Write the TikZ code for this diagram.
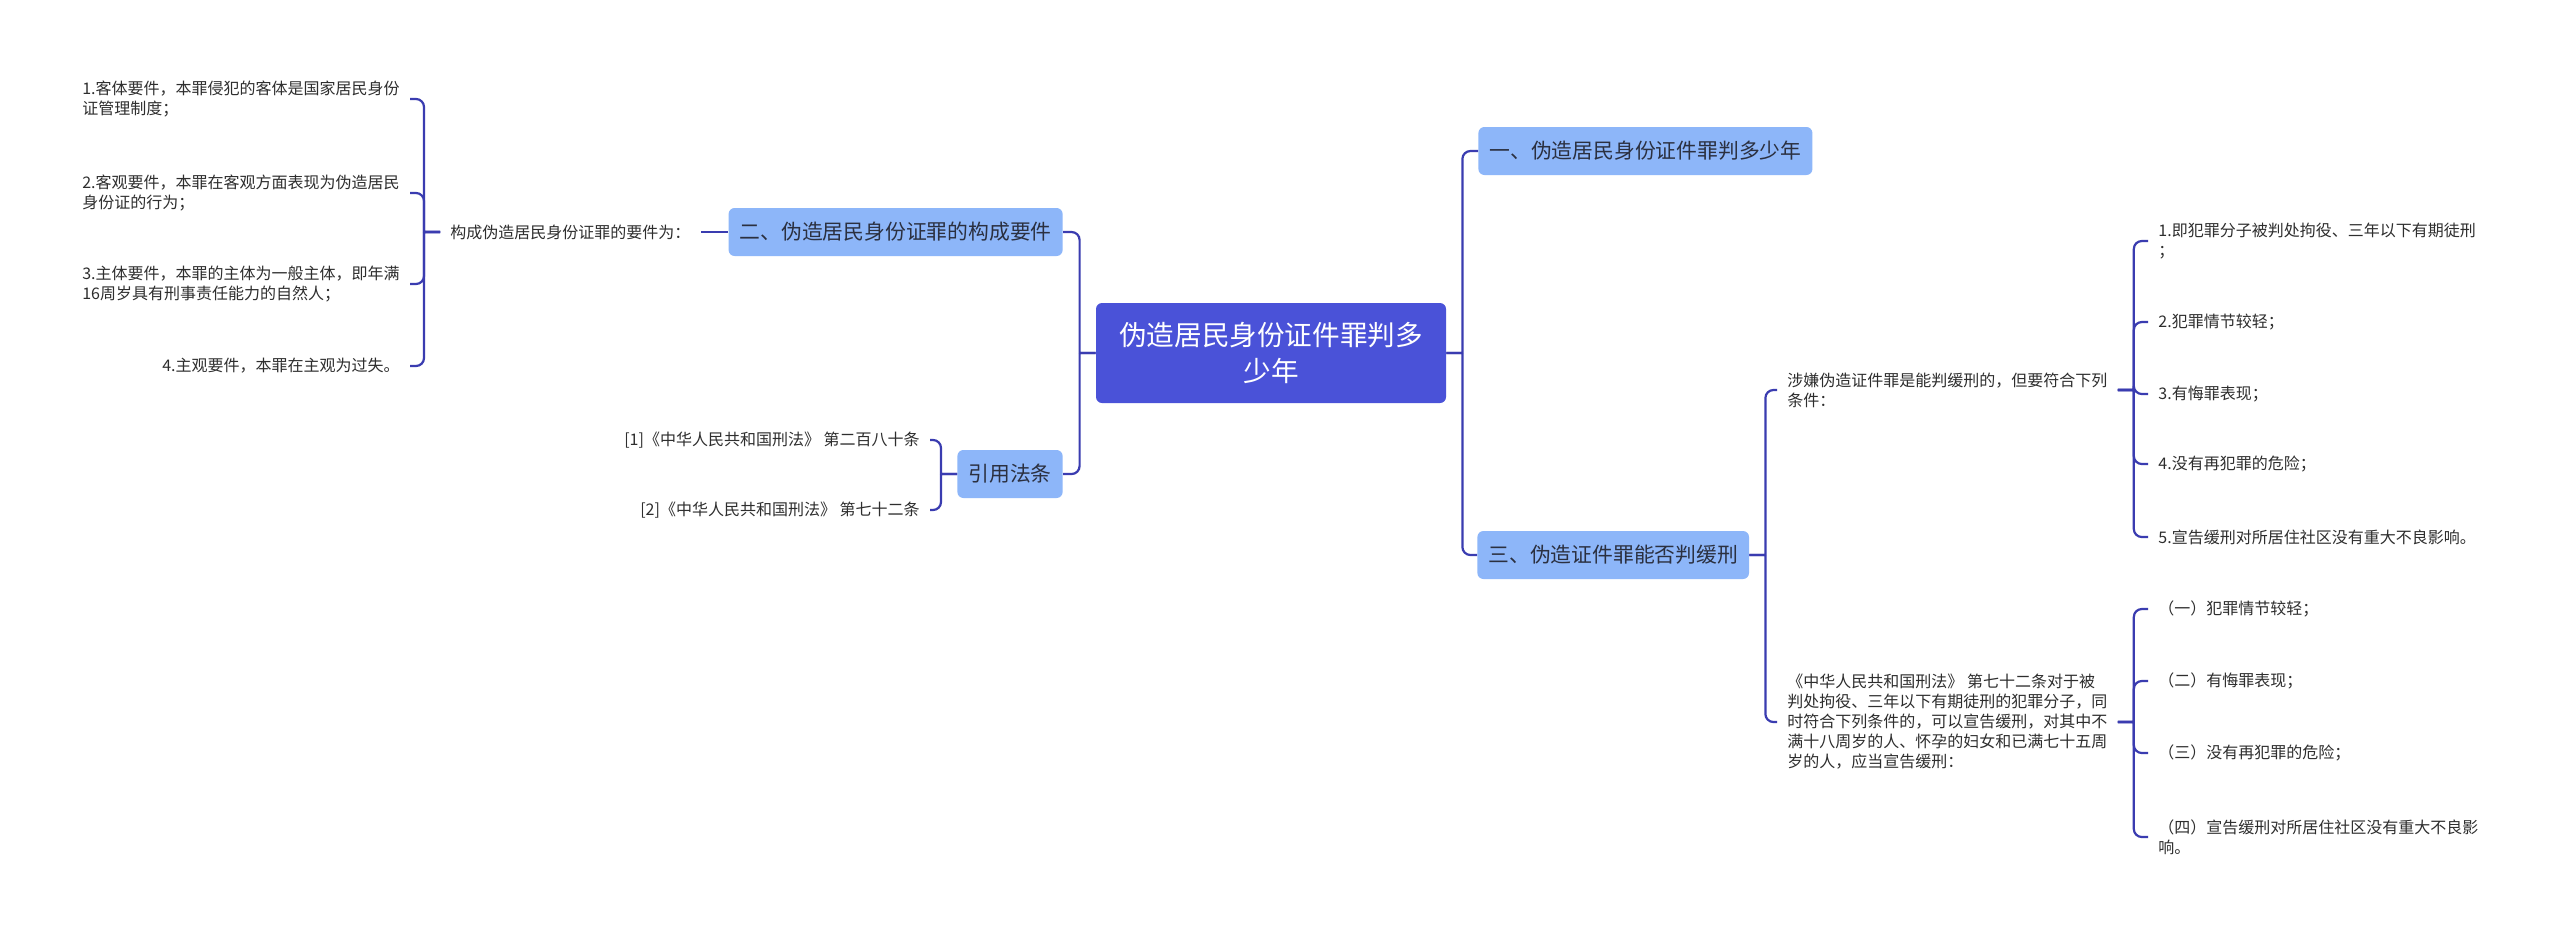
\documentclass[tikz,border=0pt]{standalone}
\usepackage{fontspec}
\setmainfont{Noto Sans CJK SC}
\definecolor{trait}{HTML}{3A3CB0}
\definecolor{racine}{HTML}{4A52D8}
\definecolor{branche}{HTML}{8DB6F9}
\definecolor{titretexte}{HTML}{2B3040}
\definecolor{texte}{HTML}{2E2E2E}

\begin{document}
\begin{tikzpicture}[x=0.5pt,y=-0.5pt,
	centre/.style={rounded corners=3pt,fill=racine,text=white,align=center,font=\fontsize{13.8}{18}\selectfont,minimum width=175pt,minimum height=50pt},
	titre/.style={rounded corners=3pt,fill=branche,text=titretexte,font=\fontsize{10.4}{12.5}\selectfont,inner xsep=5.5pt,minimum height=24pt},
	feuille/.style={text=texte,align=left,font=\fontsize{8}{10}\selectfont,inner xsep=5pt,inner ysep=2pt},
	lien/.style={draw=trait,line width=1.1pt},
	adroite/.style={lien,to path={-- ++(8pt,0pt) ++(0pt,0pt) [rounded corners=4pt] |- (\tikztotarget)}},
	agauche/.style={lien,to path={-- ++(-8pt,0pt) ++(0pt,0pt) [rounded corners=4pt] |- (\tikztotarget)}},
	]
		%cadre : coordonnees en pixels de l'image (2560 x 934)
		\fill[white] (0,0) rectangle (2560,934);
		\useasboundingbox (0,0) rectangle (2560,934);

		%\node (nom node) at(x,y) [style] {affichage} ;
		\node (node 0) at(1271,353) [centre] {伪造居民身份证件罪判多\\少年} ;
		\node (node 1) at(1478,151) [titre,anchor=west] {一、伪造居民身份证件罪判多少年} ;
		\node (node 2) at(1063,232) [titre,anchor=east] {二、伪造居民身份证罪的构成要件} ;
		\node (node 3) at(1063,474) [titre,anchor=east] {引用法条} ;
		\node (node 4) at(1477,555) [titre,anchor=west] {三、伪造证件罪能否判缓刑} ;

		%branche gauche
		\node (node 5) at(440,232) [feuille,anchor=west] {构成伪造居民身份证罪的要件为：} ;
		\node (node 6) at(410,99) [feuille,anchor=east] {1.客体要件，本罪侵犯的客体是国家居民身份\\证管理制度；} ;
		\node (node 7) at(410,193) [feuille,anchor=east] {2.客观要件，本罪在客观方面表现为伪造居民\\身份证的行为；} ;
		\node (node 8) at(410,284) [feuille,anchor=east] {3.主体要件，本罪的主体为一般主体，即年满\\16周岁具有刑事责任能力的自然人；} ;
		\node (node 9) at(410,366) [feuille,anchor=east] {4.主观要件，本罪在主观为过失。} ;
		\node (node 10) at(930,440) [feuille,anchor=east] {[1]《中华人民共和国刑法》 第二百八十条} ;
		\node (node 11) at(930,510) [feuille,anchor=east] {[2]《中华人民共和国刑法》 第七十二条} ;

		%branche droite
		\node (node 12) at(1777,390) [feuille,anchor=west] {涉嫌伪造证件罪是能判缓刑的，但要符合下列\\条件：} ;
		\node (node 13) at(1777,722) [feuille,anchor=west] {《中华人民共和国刑法》 第七十二条对于被\\判处拘役、三年以下有期徒刑的犯罪分子，同\\时符合下列条件的，可以宣告缓刑，对其中不\\满十八周岁的人、怀孕的妇女和已满七十五周\\岁的人，应当宣告缓刑：} ;
		\node (node 14) at(2148,241) [feuille,anchor=west] {1.即犯罪分子被判处拘役、三年以下有期徒刑\\；} ;
		\node (node 15) at(2148,322) [feuille,anchor=west] {2.犯罪情节较轻；} ;
		\node (node 16) at(2148,394) [feuille,anchor=west] {3.有悔罪表现；} ;
		\node (node 17) at(2148,464) [feuille,anchor=west] {4.没有再犯罪的危险；} ;
		\node (node 18) at(2148,537) [feuille,anchor=west] {5.宣告缓刑对所居住社区没有重大不良影响。} ;
		\node (node 19) at(2148,609) [feuille,anchor=west] {（一）犯罪情节较轻；} ;
		\node (node 20) at(2148,681) [feuille,anchor=west] {（二）有悔罪表现；} ;
		\node (node 21) at(2148,753) [feuille,anchor=west] {（三）没有再犯罪的危险；} ;
		\node (node 22) at(2148,837) [feuille,anchor=west] {（四）宣告缓刑对所居住社区没有重大不良影\\响。} ;

		%\path (node A.ancre) edge[adroite ou agauche] (node B.ancre);
		\path
		(node 0.east) edge[adroite] (node 1.west)
		(node 0.east) edge[adroite] (node 4.west)
		(node 0.west) edge[agauche] (node 2.east)
		(node 0.west) edge[agauche] (node 3.east)
		(node 2.west) edge[lien] (node 5.east)
		(node 5.west) edge[agauche] (node 6.east)
		(node 5.west) edge[agauche] (node 7.east)
		(node 5.west) edge[agauche] (node 8.east)
		(node 5.west) edge[agauche] (node 9.east)
		(node 3.west) edge[agauche] (node 10.east)
		(node 3.west) edge[agauche] (node 11.east)
		(node 4.east) edge[adroite] (node 12.west)
		(node 4.east) edge[adroite] (node 13.west)
		(node 12.east) edge[adroite] (node 14.west)
		(node 12.east) edge[adroite] (node 15.west)
		(node 12.east) edge[adroite] (node 16.west)
		(node 12.east) edge[adroite] (node 17.west)
		(node 12.east) edge[adroite] (node 18.west)
		(node 13.east) edge[adroite] (node 19.west)
		(node 13.east) edge[adroite] (node 20.west)
		(node 13.east) edge[adroite] (node 21.west)
		(node 13.east) edge[adroite] (node 22.west)
		;
\end{tikzpicture}
\end{document}
